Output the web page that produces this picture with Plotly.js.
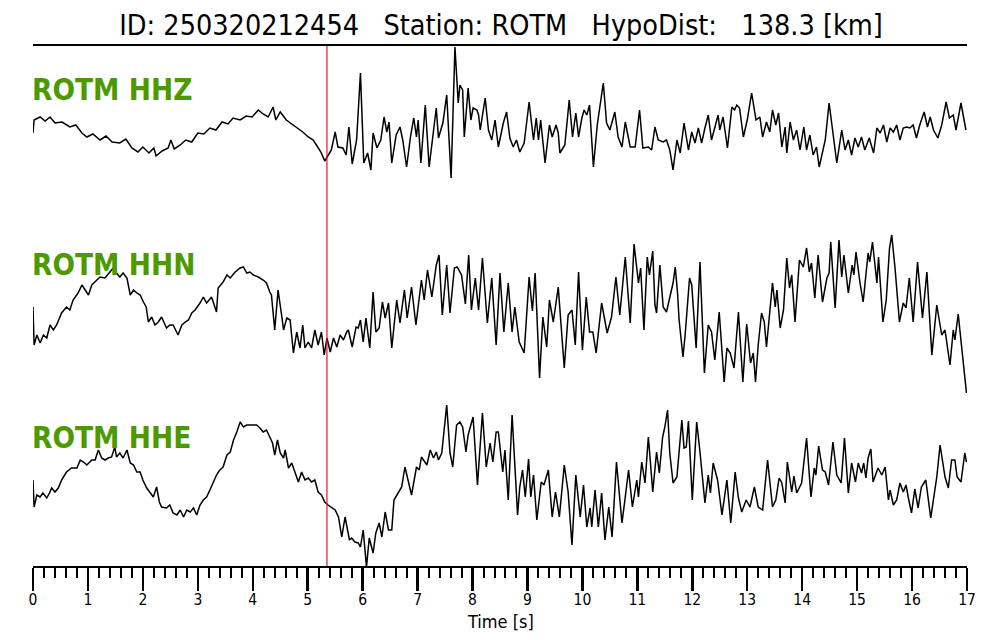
<!DOCTYPE html>
<html>
<head>
<meta charset="utf-8">
<script src="https://cdn.plot.ly/plotly-3.0.1.min.js"></script>
<style>html,body{margin:0;padding:0;background:#fff}#chart{width:1000px;height:640px}</style>
</head>
<body>
<div id="chart"></div>
<script>
// ---- data (time in s, amplitude in relative counts) ----
const stationCode = 'ROTM';
const eventId = '250320212454';
const hypoDistKm = 138.3;
const pPickTime = 5.35;
const channels = ['HHZ', 'HHN', 'HHE'];
const tickVals = [0,1,2,3,4,5,6,7,8,9,10,11,12,13,14,15,16,17];
const xAxisLabel = 'Time [s]';

const hhzT = [0.00,0.02,0.13,0.22,0.31,0.40,0.53,0.67,0.78,0.89,
0.98,1.09,1.22,1.33,1.44,1.58,1.69,1.80,1.91,2.00,
2.11,2.20,2.24,2.35,2.46,2.51,2.57,2.68,2.78,2.89,
3.00,3.11,3.22,3.33,3.44,3.55,3.64,3.77,3.88,3.99,
4.10,4.19,4.28,4.37,4.42,4.50,4.61,4.71,4.81,4.91,
5.01,5.10,5.17,5.24,5.31,5.37,5.43,5.50,5.55,5.64,
5.70,5.75,5.81,5.89,5.96,6.02,6.09,6.15,6.19,6.26,
6.33,6.39,6.44,6.48,6.53,6.61,6.68,6.73,6.80,6.87,
6.93,6.98,7.01,7.06,7.14,7.21,7.28,7.34,7.38,7.46,
7.53,7.61,7.68,7.74,7.77,7.82,7.85,7.92,7.97,8.01,
8.08,8.11,8.14,8.23,8.29,8.35,8.41,8.47,8.56,8.62,
8.68,8.74,8.80,8.86,8.94,9.03,9.11,9.16,9.20,9.24,
9.32,9.40,9.45,9.52,9.56,9.59,9.68,9.76,9.82,9.88,
9.93,9.99,10.03,10.08,10.13,10.20,10.27,10.38,10.44,10.50,
10.59,10.65,10.72,10.78,10.87,10.96,11.04,11.10,11.20,11.26,
11.32,11.38,11.47,11.53,11.59,11.65,11.72,11.78,11.85,11.93,
11.99,12.05,12.11,12.17,12.23,12.29,12.35,12.41,12.47,12.50,
12.56,12.64,12.72,12.77,12.81,12.86,12.93,13.00,13.08,13.16,
13.23,13.28,13.35,13.41,13.46,13.52,13.57,13.63,13.69,13.72,
13.78,13.84,13.90,13.96,14.03,14.08,14.14,14.20,14.26,14.31,
14.36,14.42,14.49,14.57,14.63,14.72,14.78,14.84,14.90,14.96,
15.02,15.08,15.14,15.22,15.30,15.36,15.42,15.48,15.54,15.60,
15.66,15.72,15.78,15.84,15.90,15.96,16.02,16.08,16.14,16.22,
16.28,16.33,16.39,16.47,16.54,16.62,16.68,16.75,16.80,16.89,16.98];
const hhzV = [-3,10,13,9,13,7,8,3,5,-3,
-7,-4,-10,-6,-12,-13,-9,-18,-22,-17,
-23,-18,-26,-21,-18,-10,-19,-15,-10,-12,
-3,-4,2,0,8,6,12,10,14,13,
20,16,13,23,10,18,10,6,2,-2,
-7,-10,-16,-22,-31,-25,-20,-2,-17,-18,
-25,3,-34,-10,57,-33,-23,-40,-3,-18,
-10,13,-2,8,-33,-5,3,-10,-37,-7,
12,-7,10,-33,25,-37,-8,22,-8,7,
35,-48,83,27,45,40,-7,42,10,22,
20,15,0,32,0,-10,10,-17,7,18,
-8,-17,-10,-22,-13,28,-10,12,-10,10,
-33,5,-7,5,-3,-23,-15,30,-7,17,
-7,12,20,15,25,-37,5,47,7,0,
18,-7,-17,8,-17,-17,20,-18,-17,-20,
3,-10,-12,-10,-20,-40,-10,-23,7,-20,
-2,-13,2,-13,2,15,-10,2,15,0,
13,-18,23,20,25,22,-7,10,37,10,
13,-7,8,-2,20,5,17,-17,3,-23,
8,-10,0,-20,3,-20,-5,-25,-17,-37,
-25,-10,27,-10,-33,0,-20,-10,-25,-8,
-17,-7,-20,-8,-23,2,-3,5,-12,2,
-2,5,-10,2,3,2,5,-8,5,18,
3,13,0,-8,5,28,12,15,0,27,0];

const hhnT = [0.00,0.02,0.07,0.13,0.19,0.25,0.31,0.37,0.43,0.52,
0.61,0.67,0.73,0.82,0.89,0.98,1.01,1.07,1.16,1.22,
1.31,1.40,1.46,1.52,1.58,1.64,1.71,1.77,1.83,1.89,
1.95,2.01,2.06,2.10,2.16,2.22,2.28,2.34,2.43,2.49,
2.55,2.64,2.71,2.77,2.83,2.89,2.95,3.04,3.10,3.16,
3.25,3.34,3.37,3.46,3.53,3.59,3.68,3.77,3.83,3.89,
3.95,4.01,4.10,4.19,4.25,4.31,4.34,4.40,4.46,4.53,
4.56,4.62,4.68,4.74,4.80,4.86,4.91,4.95,5.01,5.07,
5.13,5.19,5.25,5.30,5.35,5.41,5.47,5.53,5.59,5.65,
5.71,5.74,5.81,5.88,5.92,5.96,6.01,6.06,6.10,6.13,
6.19,6.24,6.30,6.36,6.41,6.47,6.53,6.62,6.68,6.76,
6.81,6.89,6.97,7.03,7.07,7.12,7.18,7.26,7.34,7.39,
7.45,7.53,7.59,7.67,7.72,7.80,7.87,7.93,7.98,8.05,
8.11,8.18,8.27,8.35,8.43,8.50,8.57,8.65,8.72,8.77,
8.85,8.94,9.03,9.09,9.14,9.22,9.28,9.35,9.40,9.47,
9.56,9.67,9.74,9.81,9.87,9.93,10.00,10.07,10.13,10.19,
10.25,10.35,10.45,10.53,10.61,10.68,10.78,10.87,10.94,11.02,
11.06,11.12,11.18,11.22,11.28,11.32,11.35,11.41,11.47,11.53,
11.59,11.65,11.69,11.73,11.76,11.83,11.87,11.95,11.99,12.07,
12.14,12.22,12.29,12.35,12.41,12.49,12.58,12.63,12.69,12.76,
12.84,12.92,12.99,13.06,13.11,13.15,13.20,13.26,13.31,13.35,
13.40,13.46,13.51,13.54,13.60,13.66,13.72,13.77,13.81,13.87,
13.95,14.02,14.08,14.13,14.17,14.23,14.29,14.37,14.45,14.49,
14.52,14.60,14.67,14.72,14.76,14.84,14.91,14.94,14.98,15.02,
15.05,15.11,15.20,15.23,15.28,15.36,15.39,15.47,15.53,15.59,
15.63,15.69,15.77,15.84,15.89,15.95,16.02,16.10,16.19,16.27,
16.36,16.45,16.54,16.60,16.69,16.75,16.78,16.84,16.90,16.99];
const hhnV = [3,-35,-25,-33,-25,-28,-15,-20,-15,-3,
3,0,10,17,25,18,15,25,30,33,
32,38,42,37,33,37,32,15,20,17,
15,8,3,-12,-7,-15,-12,-7,-18,-15,
-15,-25,-15,-12,-10,-3,0,7,13,7,
13,-2,22,28,35,32,38,42,43,37,
38,35,33,30,27,18,15,-20,20,-7,
-20,-8,-10,-43,-22,-38,-15,-38,-32,-38,
-20,-35,-22,-45,-28,-42,-28,-37,-25,-30,
-22,-20,-37,-17,-18,-10,-32,-8,-28,-38,
18,-22,-18,8,-8,7,-38,10,-13,20,
-8,23,-15,10,30,10,40,13,45,55,
-5,45,-3,42,43,35,6,55,0,32,
0,52,-13,32,-35,37,-22,27,-22,3,
-32,-43,33,-1,37,-68,-7,-37,10,-12,
23,-58,-5,0,-35,38,-40,13,-22,-22,
-43,7,-23,-7,33,-5,53,-13,66,27,
42,-20,53,35,59,5,-3,45,3,-2,
13,27,43,18,-10,-47,-25,32,25,-38,
48,-63,-15,-22,-50,-2,-72,-38,-43,-58,
-2,-72,-14,-53,-43,-72,-35,-3,-12,-37,
-8,27,3,20,-18,0,52,22,35,-12,
50,43,62,38,47,12,55,8,32,37,
68,2,70,33,55,17,45,35,58,40,
28,8,57,48,68,27,53,-12,10,62,
75,42,-12,7,2,32,-12,48,-8,38,
-45,5,-25,-20,-55,-20,-30,-4,-35,-83];

const hheT = [0.00,0.02,0.07,0.13,0.18,0.25,0.30,0.34,0.40,0.46,
0.52,0.61,0.70,0.80,0.86,0.92,0.98,1.07,1.13,1.19,
1.25,1.31,1.37,1.43,1.49,1.52,1.58,1.64,1.71,1.77,
1.83,1.89,1.95,2.00,2.07,2.13,2.19,2.25,2.30,2.34,
2.43,2.49,2.55,2.62,2.68,2.74,2.80,2.86,2.92,2.98,
3.04,3.10,3.16,3.22,3.28,3.34,3.40,3.46,3.53,3.59,
3.65,3.71,3.77,3.83,3.89,3.95,4.07,4.13,4.19,4.25,
4.31,4.36,4.40,4.45,4.50,4.56,4.59,4.65,4.71,4.77,
4.83,4.89,4.95,5.01,5.07,5.13,5.19,5.25,5.31,5.37,
5.44,5.50,5.56,5.62,5.68,5.76,5.80,5.86,5.92,5.96,
6.01,6.07,6.12,6.19,6.24,6.30,6.35,6.41,6.47,6.53,
6.57,6.65,6.71,6.77,6.83,6.89,6.98,7.03,7.07,7.17,
7.23,7.29,7.34,7.38,7.44,7.47,7.53,7.59,7.64,7.71,
7.77,7.82,7.88,7.92,7.95,8.01,8.09,8.18,8.25,8.32,
8.37,8.43,8.47,8.55,8.59,8.65,8.72,8.82,8.86,8.91,
8.96,9.02,9.06,9.11,9.17,9.25,9.30,9.38,9.45,9.51,
9.58,9.67,9.74,9.81,9.88,9.96,10.02,10.08,10.14,10.17,
10.23,10.29,10.35,10.41,10.48,10.54,10.62,10.72,10.78,10.84,
10.91,10.99,11.02,11.08,11.14,11.20,11.22,11.28,11.35,11.40,
11.46,11.50,11.55,11.59,11.65,11.72,11.81,11.85,11.89,11.93,
12.00,12.08,12.14,12.23,12.29,12.33,12.38,12.46,12.54,12.63,
12.70,12.78,12.84,12.90,12.98,13.05,13.13,13.20,13.28,13.37,
13.46,13.52,13.58,13.63,13.69,13.73,13.81,13.85,13.90,13.99,
14.08,14.16,14.22,14.25,14.30,14.37,14.42,14.48,14.56,14.63,
14.71,14.77,14.84,14.90,14.97,15.02,15.08,15.12,15.16,15.20,
15.25,15.29,15.38,15.45,15.51,15.57,15.60,15.66,15.72,15.78,
15.84,15.89,15.93,15.99,16.05,16.11,16.17,16.25,16.34,16.39,
16.45,16.51,16.60,16.66,16.72,16.78,16.82,16.89,16.92,16.96,16.99];
const hheV = [0,-27,-15,-17,-13,-18,-13,-8,-12,-8,
0,8,12,12,20,18,15,20,20,30,
22,20,22,23,33,23,27,22,30,17,
15,8,8,0,-8,-12,-17,-7,-22,-27,
-28,-25,-33,-35,-30,-37,-30,-32,-28,-35,
-25,-20,-17,-10,-2,5,10,13,25,28,
40,48,58,53,55,55,55,52,48,50,
43,37,25,40,27,22,30,12,17,8,
-2,8,0,2,-2,0,-12,-15,-22,-25,
-28,-30,-37,-57,-37,-60,-58,-62,-63,-67,
-50,-87,-58,-73,-53,-43,-57,-32,-50,-50,
-20,-13,-7,13,-2,-15,13,10,23,15,
30,22,28,20,27,42,75,27,13,55,
58,53,28,45,52,63,-5,67,13,37,
18,48,48,8,30,-20,65,-35,-7,10,
-17,21,-17,5,-40,-2,-5,10,-37,-12,
-37,15,-12,-65,5,-37,-5,-47,-28,-47,
-10,-47,-13,-60,-27,-57,18,-43,-17,10,
-27,0,-17,18,-3,43,30,-12,28,7,
43,53,70,27,-3,3,60,32,33,59,
-20,58,28,-23,5,-13,17,0,-35,0,
-43,8,-18,-32,-20,-27,-7,-27,-30,20,
-27,-20,2,-3,-23,18,-12,4,-13,-3,
42,-17,12,5,34,10,8,-5,38,5,
-3,42,-13,17,-2,17,7,17,2,22,
31,-2,12,5,13,-20,-10,-25,-20,-3,
-12,-5,-17,-33,-9,-28,-7,0,-38,-20,
3,35,3,-8,20,20,3,-2,12,27,18];

// ---- drawing ----
const traceOffsets = [0, -180, -350];
const labelY = [0.915, 0.579, 0.246];
const series = [[hhzT, hhzV], [hhnT, hhnV], [hheT, hheV]];
const FONT = '"DejaVu Sans Condensed", "DejaVu Sans", sans-serif';

const data = series.map(function (s, i) {
  return {
    type: 'scatter', mode: 'lines',
    x: s[0],
    y: s[1].map(function (v) { return v + traceOffsets[i]; }),
    line: {color: '#000000', width: 1.5},
    hoverinfo: 'skip', showlegend: false
  };
});

const nb = '\u00a0\u00a0\u00a0';
const annotations = channels.map(function (ch, i) {
  return {
    text: '<b>' + stationCode + ' ' + ch + '</b>',
    xref: 'paper', yref: 'paper', x: -0.002, y: labelY[i],
    xanchor: 'left', yanchor: 'middle', showarrow: false,
    borderpad: 0,
    font: {family: FONT, size: 29.5, color: '#4c9a00'}
  };
});
annotations.push({
  text: xAxisLabel, xref: 'paper', yref: 'paper', x: 0.5, y: -0.106,
  xanchor: 'center', yanchor: 'middle', showarrow: false, borderpad: 0,
  font: {family: FONT, size: 18, color: '#000000'}
});

const layout = {
  width: 1000, height: 640,
  paper_bgcolor: '#ffffff', plot_bgcolor: '#ffffff',
  margin: {l: 33, r: 33, t: 46, b: 74},
  font: {family: FONT, color: '#000000'},
  title: {
    text: 'ID: ' + eventId + nb + 'Station: ' + stationCode + nb + 'HypoDist:' + nb + hypoDistKm.toFixed(1) + ' [km]',
    font: {family: FONT, size: 28.5, color: '#000000'},
    x: 0.501, xanchor: 'center', xref: 'container',
    y: 0.961, yanchor: 'middle', yref: 'container'
  },
  xaxis: {
    range: [0, 17], fixedrange: true,
    showgrid: false, zeroline: false,
    showline: true, linecolor: '#000000', linewidth: 2, mirror: true,
    ticks: 'outside', tickmode: 'array', tickvals: tickVals, ticktext: tickVals.map(String),
    ticklen: 23, tickwidth: 2.5, tickcolor: '#000000',
    ticklabelstandoff: -5,
    tickfont: {family: FONT, size: 15.5, color: '#000000'},
    minor: {ticks: 'outside', dtick: 0.2, tick0: 0, ticklen: 10, tickwidth: 2, tickcolor: '#000000', showgrid: false},
    automargin: false
  },
  yaxis: {
    range: [-436, 84], fixedrange: true,
    visible: false, showgrid: false, zeroline: false
  },
  shapes: [{
    type: 'line', xref: 'x', yref: 'paper',
    x0: pPickTime, x1: pPickTime, y0: 0, y1: 1,
    line: {color: '#e8141c', width: 1.2}
  }],
  annotations: annotations
};

Plotly.newPlot('chart', data, layout, {displayModeBar: false, staticPlot: true});
</script>
</body>
</html>
